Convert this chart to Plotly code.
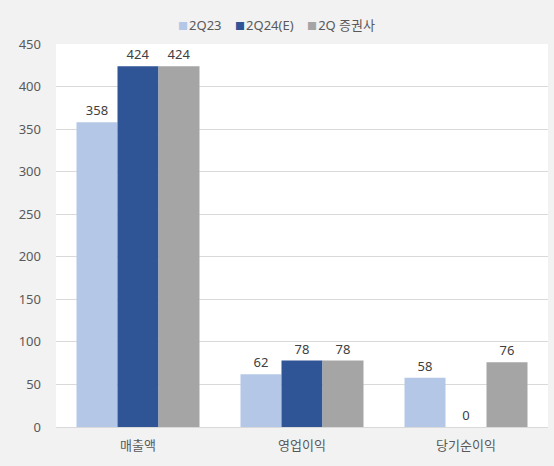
import plotly.graph_objects as go

# categories and series values (억원)
categories = ["매출액", "영업이익", "당기순이익"]
series_names = ["2Q23", "2Q24(E)", "2Q 증권사"]
vals_2q23 = [358, 62, 58]
vals_2q24e = [424, 78, 0]
vals_consensus = [424, 78, 76]
colors = ["#b4c7e7", "#2f5597", "#a5a5a5"]

fig = go.Figure()

for name, vals, color in zip(series_names, [vals_2q23, vals_2q24e, vals_consensus], colors):
    fig.add_trace(go.Bar(
        x=categories,
        y=vals,
        name=name,
        marker=dict(color=color, line=dict(width=0)),
        text=[str(v) for v in vals],
        textposition="outside",
        textfont=dict(size=13, color="#404040"),
        cliponaxis=False,
    ))

# legend drawn as one line of text with coloured squares
legend_text = "&nbsp;&nbsp;&nbsp;&nbsp;".join(
    f"<span style='color:{c}; font-size:10px'>■</span><span style='font-size:4px'>&nbsp;</span>{n}"
    for n, c in zip(series_names, colors)
)
fig.add_annotation(
    text=legend_text,
    xref="paper", yref="paper",
    x=0.449, y=1.05,
    xanchor="center", yanchor="middle",
    showarrow=False,
    font=dict(size=13, color="#595959"),
)

fig.update_layout(
    barmode="group",
    bargap=0.25,
    bargroupgap=0,
    showlegend=False,
    paper_bgcolor="#f2f2f2",
    plot_bgcolor="white",
    font=dict(family="Noto Sans, Noto Sans CJK KR, sans-serif", size=13, color="#595959"),
    margin=dict(l=56, r=6, t=44, b=39),
    xaxis=dict(
        showgrid=False,
        showline=True,
        linecolor="#d9d9d9",
        ticks="",
        tickfont=dict(size=13, color="#595959"),
        ticklabelstandoff=6,
    ),
    yaxis=dict(
        range=[0, 450],
        dtick=50,
        showgrid=True,
        gridcolor="#d9d9d9",
        zeroline=False,
        ticks="",
        tickfont=dict(size=13, color="#595959"),
        ticklabelstandoff=14,
    ),
    width=554,
    height=466,
)

fig.write_html("out.html", config={"displayModeBar": False},
               post_script="document.body.style.margin='0';")
